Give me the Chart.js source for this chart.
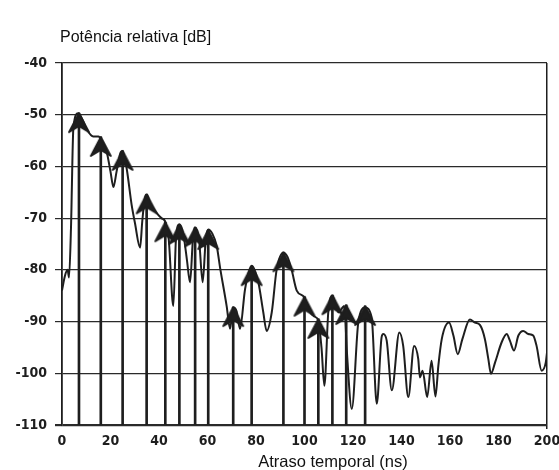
<!DOCTYPE html>
<html>
<head>
<meta charset="utf-8">
<script src="https://cdn.jsdelivr.net/npm/chart.js@4/dist/chart.umd.min.js"></script>
<style>
  html, body { margin: 0; padding: 0; background: #fff; }
  #wrap { width: 559px; height: 470px; position: relative; }
</style>
</head>
<body>
<div id="wrap"><canvas id="chart"></canvas></div>
<script>
// continuous delay profile (ns, dB)
const curveX = [0, 1.2, 2.3, 2.9, 3.7, 4.7, 6.7, 8.5, 10.2, 12.9, 15, 16.5, 18.4, 20, 21.2, 22.5, 24, 25,
  26.7, 28.7, 30.1, 32.2, 33.1, 34.2, 35, 36.3, 39, 41, 42.5, 44, 45.9, 47, 48.4, 50, 51.5, 52.8, 54, 54.8,
  56.5, 58, 59.3, 60.3, 62, 63.8, 65.2, 67.9, 69.3, 70.6, 72, 73.4, 75.5, 78.2, 81, 83, 84.4, 86.5, 88.5,
  91.3, 93, 94.7, 96.8, 99.9, 102.3, 104, 105.7, 107, 108.2, 109.8, 111.5, 114, 116.4, 117.5, 119.5, 122.2,
  125, 127.7, 129.8, 131.8, 132.5, 133.9, 136, 139.1, 140.7, 142.8, 145.2, 146.9, 147.6, 148.7, 150.6,
  152.4, 154, 155.2, 156.6, 159.6, 161.4, 163.2, 165.1, 168.2, 170.3, 172.4, 174.4, 175.8, 176.9, 178.6,
  181.3, 183.4, 184.7, 186.4, 188.2, 190.2, 192.3, 194.3, 195.7, 197.8, 199.5, 200];
const curveY = [-84, -81.2, -80, -81.5, -72, -52.5, -49.7, -51, -52.8, -54.2, -54.2, -55, -57.1, -61, -64, -61, -57.5, -57,
  -60.5, -67.4, -71, -75.7, -70.6, -66, -65.5, -67, -69, -70, -70.6, -74, -87, -74, -71.2, -73, -78, -82.4, -74, -71.8,
  -74, -82.4, -74, -72.2, -73, -75.4, -79.6, -87, -91.4, -87.3, -88, -91.4, -83.7, -79.2, -82.5, -88.2, -91.8, -88.2, -80,
  -76.7, -77.5, -80, -84, -85.3, -88.2, -89, -89.8, -95, -102.4, -88.2, -85, -88.2, -87, -96, -106.9, -90.1,
  -87.3, -89.2, -105.9, -93, -92.4, -93.7, -103.3, -92.1, -94.7, -104.6, -94.7, -97.2, -100.8, -99.5, -104.6,
  -97.6, -104.5, -98.5, -93.4, -90.2, -92.7, -96.3, -93.4, -89.6, -90.2, -90.7, -93.4, -97.2, -100.1, -97.9,
  -94, -92.4, -93.7, -95.6, -92.7, -91.8, -92.4, -92.7, -94.7, -99.5, -97.9, -96];

// discrete paths (ns, dB)
const pathX = [7, 16, 25, 34.9, 42.6, 48.4, 54.9, 60.3, 70.6, 78.2, 91.3, 100, 105.7, 111.5, 117.2, 125];
const pathY = [-49.7, -54.3, -57, -65.4, -70.8, -71.3, -71.8, -72.3, -87.2, -79.3, -76.6, -85.2, -89.5, -84.9, -86.8, -87];

const yTicks = [-110, -100, -90, -80, -70, -60, -50, -40];
const xTicks = [0, 20, 40, 60, 80, 100, 120, 140, 160, 180, 200];

const ink = '#1e1e1e';
const tickFont = { family: "'Liberation Sans Narrow', 'DejaVu Sans Condensed', Arial, sans-serif", size: 14, weight: 'bold' };

// arrowhead marker, tip at the centre of the canvas
const arrow = document.createElement('canvas');
arrow.width = 26; arrow.height = 44;
const ac = arrow.getContext('2d');
ac.fillStyle = ink;
ac.strokeStyle = ink;
ac.lineWidth = 1.8;
ac.lineJoin = 'round';
ac.beginPath();
ac.moveTo(13, 22);
ac.lineTo(23, 41);
ac.lineTo(13, 35);
ac.lineTo(3, 41);
ac.closePath();
ac.fill();
ac.stroke();

const base = -110;
const curveData = curveX.map((x, i) => ({ x: x, y: curveY[i] }));
const stemData = pathX.map((x, i) => ({ x: x, y: [base, pathY[i]] }));
const headData = pathX.map((x, i) => ({ x: x, y: pathY[i] }));

const labels = {
  id: 'labels',
  afterDraw(chart) {
    const c = chart.ctx;
    c.save();
    c.fillStyle = '#111';
    c.textBaseline = 'alphabetic';
    c.textAlign = 'left';
    c.font = "16px 'Liberation Sans', Arial, sans-serif";
    c.fillText('Potência relativa [dB]', chart.chartArea.left - 2, 42);
    c.textAlign = 'center';
    c.font = "16.5px 'Liberation Sans', Arial, sans-serif";
    c.fillText('Atraso temporal (ns)', 333, 467);
    c.restore();
  }
};

new Chart(document.getElementById('chart'), {
  type: 'line',
  data: {
    datasets: [
      {
        type: 'line',
        data: curveData,
        borderColor: ink,
        borderWidth: 2,
        pointRadius: 0,
        cubicInterpolationMode: 'monotone',
        order: 2
      },
      {
        type: 'bar',
        data: stemData,
        backgroundColor: ink,
        barThickness: 2,
        order: 3
      },
      {
        type: 'line',
        data: headData,
        showLine: false,
        pointStyle: arrow,
        pointRadius: 11,
        order: 1
      }
    ]
  },
  options: {
    responsive: true,
    maintainAspectRatio: false,
    animation: false,
    layout: { padding: { left: 0, top: 63, right: 12, bottom: 0 } },
    plugins: { legend: { display: false }, tooltip: { enabled: false } },
    scales: {
      x: {
        type: 'linear',
        min: 0, max: 200,
        offset: false,
        afterBuildTicks: s => { s.ticks = xTicks.map(v => ({ value: v })); },
        afterFit: s => { s.height = 45; s.paddingRight = 0; s.paddingLeft = 0; },
        ticks: { font: tickFont, color: ink, padding: 4, maxRotation: 0 },
        grid: {
          offset: false,
          color: ctx => (ctx.tick && ctx.tick.value === 200 ? ink : 'rgba(0,0,0,0)'),
          lineWidth: 1.5,
          tickLength: 4
        },
        border: { display: false }
      },
      y: {
        min: -110, max: -40,
        afterBuildTicks: s => { s.ticks = yTicks.map(v => ({ value: v })); },
        afterFit: s => { s.width = 62; },
        ticks: { font: tickFont, color: ink, padding: 8 },
        grid: {
          color: '#2a2a2a',
          lineWidth: ctx => (ctx.tick && ctx.tick.value === -110 ? 2.2 : 1.2),
          tickLength: 7
        },
        border: { color: ink, width: 1.8 }
      }
    }
  },
  plugins: [labels]
});
</script>
</body>
</html>
